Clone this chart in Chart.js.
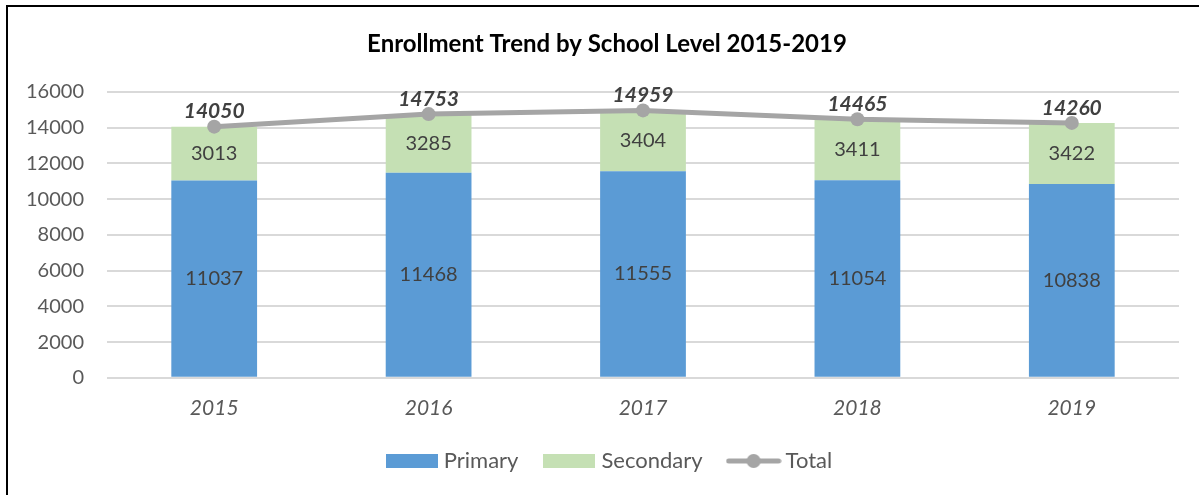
<!DOCTYPE html>
<html>
<head>
<meta charset="utf-8">
<script src="https://cdn.jsdelivr.net/npm/chart.js@4.4.1/dist/chart.umd.min.js"></script>
<style>
  html, body { margin: 0; padding: 0; background: #fff; overflow: hidden; }
  #wrap { position: relative; width: 1199px; height: 495px; }
  #frame { position: absolute; left: 6px; top: 5px; width: 1400px; height: 700px; border: 2px solid #000; box-sizing: border-box; }
  canvas { position: absolute; left: 0; top: 0; }
</style>
</head>
<body>
<div id="wrap">
  <div id="frame"></div>
  <canvas id="c" width="1199" height="495"></canvas>
</div>
<script>
const categories = ['2015', '2016', '2017', '2018', '2019'];
const primary = [11037, 11468, 11555, 11054, 10838];
const secondary = [3013, 3285, 3404, 3411, 3422];
const total = [14050, 14753, 14959, 14465, 14260];
const yTicks = [0, 2000, 4000, 6000, 8000, 10000, 12000, 14000, 16000];

const FONT = 'Lato';
const C_PRIMARY = '#5B9BD5';
const C_SECONDARY = '#C5E0B4';
const C_TOTAL = '#A5A5A5';

function rectIcon(color) {
  const cv = document.createElement('canvas');
  cv.width = 52; cv.height = 14;
  const g = cv.getContext('2d');
  g.fillStyle = color; g.fillRect(0, 0, 52, 14);
  return cv;
}
function lineIcon(color) {
  const cv = document.createElement('canvas');
  cv.width = 56; cv.height = 16;
  const g = cv.getContext('2d');
  g.strokeStyle = color; g.lineWidth = 5; g.lineCap = 'round';
  g.beginPath(); g.moveTo(3, 8); g.lineTo(53, 8); g.stroke();
  g.fillStyle = color; g.beginPath(); g.arc(28, 8, 7, 0, Math.PI * 2); g.fill();
  return cv;
}
const icons = [rectIcon(C_PRIMARY), rectIcon(C_SECONDARY), lineIcon(C_TOTAL)];

const labelPlugin = {
  id: 'valueLabels',
  afterLayout(chart) {
    // centre title and legend like the original (which centres on the framed area)
    if (chart.titleBlock) { chart.titleBlock.left += 35; }
    if (chart.legend) { chart.legend.left += 44; }
  },
  afterDatasetsDraw(chart) {
    const ctx = chart.ctx;
    ctx.save();
    ctx.textAlign = 'center';
    ctx.textBaseline = 'middle';
    chart.data.datasets.forEach((ds, di) => {
      const meta = chart.getDatasetMeta(di);
      meta.data.forEach((el, i) => {
        const v = ds.data[i];
        if (ds.type === 'line') {
          ctx.font = 'italic bold 21px ' + FONT;
          ctx.fillStyle = '#404040';
          ctx.fillText(String(v), el.x, el.y - 15);
        } else {
          ctx.font = '20px ' + FONT;
          ctx.fillStyle = '#404040';
          ctx.fillText(String(v), el.x, (el.y + el.base) / 2);
        }
      });
    });
    ctx.restore();
  }
};

new Chart(document.getElementById('c'), {
  data: {
    labels: categories,
    datasets: [
      { type: 'line', label: 'Total', data: total, stack: 'total', order: 0,
        borderColor: C_TOTAL, backgroundColor: C_TOTAL, borderWidth: 5,
        pointRadius: 7, pointHoverRadius: 7, pointBackgroundColor: C_TOTAL, pointBorderWidth: 0,
        tension: 0 },
      { type: 'bar', label: 'Primary', data: primary, stack: 'a', order: 1,
        backgroundColor: C_PRIMARY, barPercentage: 0.4, categoryPercentage: 1 },
      { type: 'bar', label: 'Secondary', data: secondary, stack: 'a', order: 1,
        backgroundColor: C_SECONDARY, barPercentage: 0.4, categoryPercentage: 1 }
    ]
  },
  options: {
    responsive: false,
    animation: false,
    layout: { padding: { left: 0, right: 20, top: 0, bottom: 13 } },
    plugins: {
      tooltip: { enabled: false },
      title: {
        display: true,
        text: 'Enrollment Trend by School Level 2015-2019',
        color: '#000',
        font: { family: FONT, size: 24, weight: 'bold' },
        padding: { top: 30, bottom: 33 }
      },
      legend: {
        position: 'bottom',
        labels: {
          usePointStyle: true,
          pointStyleWidth: 42,
          boxHeight: 16,
          padding: 30,
          color: '#595959',
          font: { family: FONT, size: 22 },
          generateLabels() {
            const names = ['Primary', 'Secondary', 'Total'];
            const idx = [1, 2, 0];
            return names.map((n, k) => ({
              text: n, pointStyle: icons[k], datasetIndex: idx[k],
              fillStyle: 'transparent', strokeStyle: 'transparent', lineWidth: 0,
              fontColor: '#595959', hidden: false
            }));
          }
        }
      }
    },
    scales: {
      x: {
        grid: { display: false },
        border: { display: false },
        afterFit(scale) { scale.height = scale.height - 11; },
        ticks: { color: '#595959', font: { family: FONT, size: 21, style: 'italic' }, padding: 10 }
      },
      y: {
        stacked: true,
        min: 0, max: 16000,
        afterBuildTicks(scale) { scale.ticks = yTicks.map(v => ({ value: v })); },
        afterFit(scale) { scale.width = 107; },
        grid: { color: '#D9D9D9', lineWidth: 2, drawTicks: false },
        border: { display: false },
        ticks: { color: '#595959', font: { family: FONT, size: 20 }, padding: 23,
                 callback: (v) => String(v) }
      }
    }
  },
  plugins: [labelPlugin]
});
</script>
</body>
</html>
